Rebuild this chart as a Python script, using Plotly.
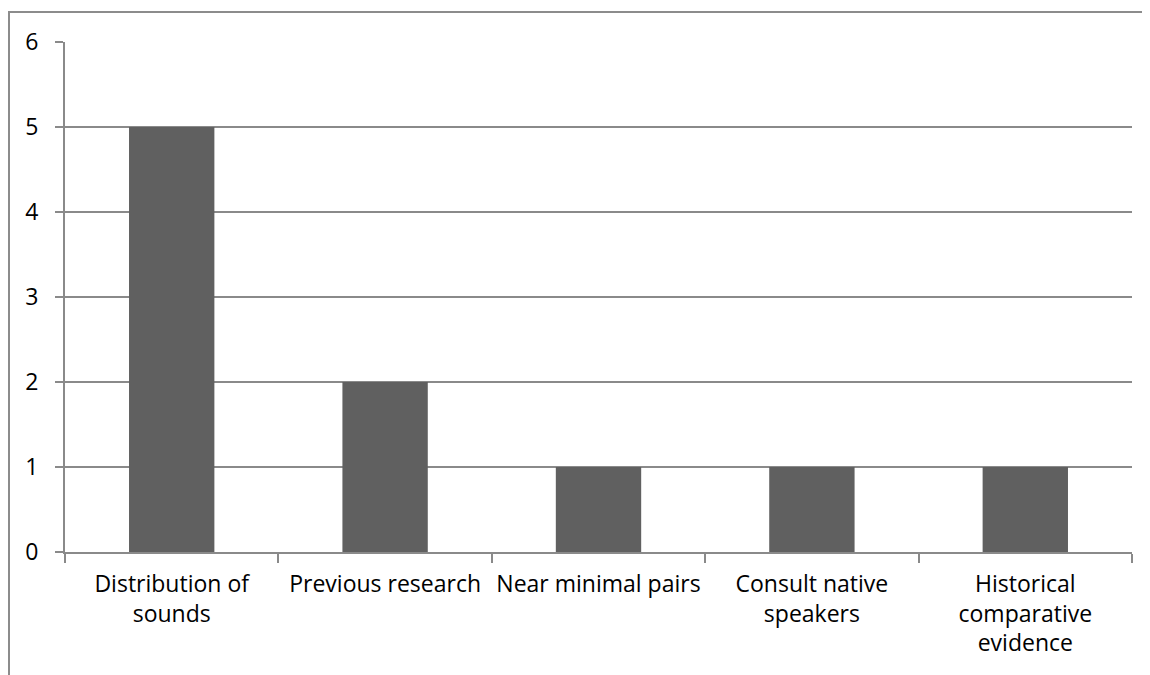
import plotly.graph_objects as go

categories = ["Distribution of<br>sounds", "Previous research", "Near minimal pairs",
              "Consult native<br>speakers", "Historical<br>comparative<br>evidence"]
values = [5, 2, 1, 1, 1]
y_ticks = [0, 1, 2, 3, 4, 5, 6]

# page has an 8px body margin, so the figure is drawn 8px smaller / shifted
OFF = 8
W, H = 1150 - OFF, 675 - OFF
L, R, T, B = 65 - OFF, 18, 42 - OFF, 123
pw, ph = W - L - R, H - T - B

grid = "#8a8a8a"
fnt = dict(family="Open Sans, Noto Sans, sans-serif", size=23, color="#000000")

fig = go.Figure(go.Bar(x=categories, y=values, marker=dict(color="#606060", line=dict(width=0)),
                       width=0.4))

fig.update_layout(
    width=W, height=H,
    margin=dict(l=L, r=R, t=T, b=B, autoexpand=False),
    plot_bgcolor="white", paper_bgcolor="white",
    showlegend=False,
    font=fnt,
    bargap=0.6,
)
fig.update_xaxes(type="category", showline=True, linecolor=grid, linewidth=2,
                 ticks="outside", tickson="boundaries", ticklen=9, tickcolor=grid, tickwidth=2,
                 showgrid=False, tickfont=fnt, ticklabelstandoff=10, tickangle=0,
                 automargin=False)
fig.update_yaxes(range=[0, 6], tickvals=y_ticks, showline=True, linecolor=grid, linewidth=2,
                 ticks="outside", ticklen=8, tickcolor=grid, tickwidth=2,
                 showgrid=True, gridcolor=grid, gridwidth=2, zeroline=False,
                 tickfont=fnt, ticklabelstandoff=12, automargin=False)

# outer chart border
x0 = (9 - OFF - L) / pw
y1 = 1 + (T - (12 - OFF)) / ph
fig.add_shape(type="rect", xref="paper", yref="paper", x0=x0, x1=1.5, y0=-1, y1=y1,
              line=dict(color="#8c8c8c", width=2), layer="below")

fig.write_html("out.html")
